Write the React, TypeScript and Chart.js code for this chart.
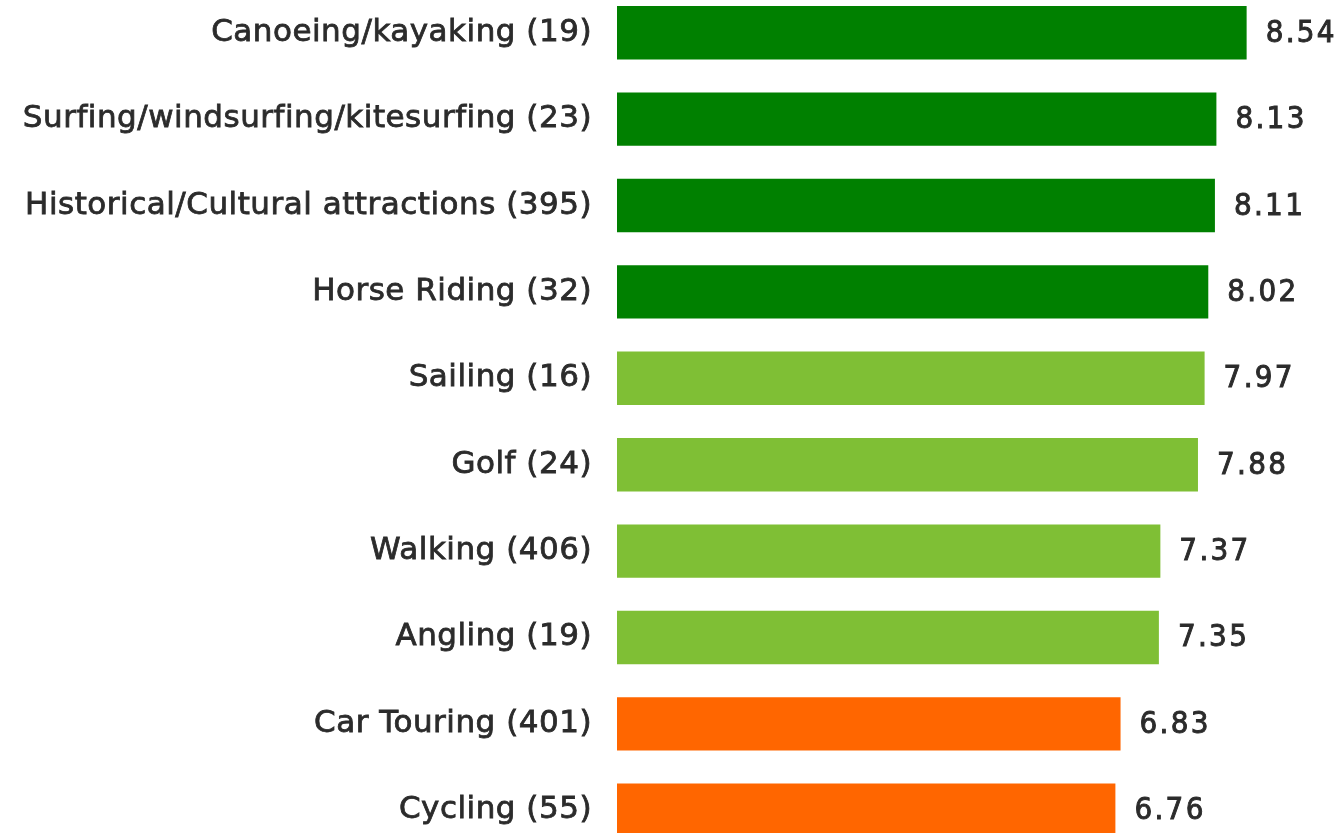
import React, { useEffect, useRef } from "react";
import { Chart, registerables } from "chart.js";

Chart.register(...registerables);

const categories = [
  "Canoeing/kayaking (19)",
  "Surfing/windsurfing/kitesurfing (23)",
  "Historical/Cultural attractions (395)",
  "Horse Riding (32)",
  "Sailing (16)",
  "Golf (24)",
  "Walking (406)",
  "Angling (19)",
  "Car Touring (401)",
  "Cycling (55)",
];
const scores = [8.54, 8.13, 8.11, 8.02, 7.97, 7.88, 7.37, 7.35, 6.83, 6.76];
const barColors = [
  "#008000", "#008000", "#008000", "#008000",
  "#7FBF35", "#7FBF35", "#7FBF35", "#7FBF35",
  "#FF6600", "#FF6600",
];

const LABEL_FONT = "'DejaVu Sans', sans-serif";
const VALUE_FONT = "'DejaVu Sans Condensed', 'DejaVu Sans', sans-serif";
const TEXT_COLOR = "#2b2b2b";

const spacing = {
  id: "spacing",
  beforeDraw(chart: any) {
    try { chart.ctx.letterSpacing = "0.5px"; } catch (e) {}
  },
  afterDraw(chart: any) {
    try { chart.ctx.letterSpacing = "0px"; } catch (e) {}
  },
};

const valueLabels = {
  id: "valueLabels",
  afterDatasetsDraw(chart: any) {
    const ctx = chart.ctx;
    const meta = chart.getDatasetMeta(0);
    ctx.save();
    ctx.font = `31px ${VALUE_FONT}`;
    ctx.fillStyle = TEXT_COLOR;
    ctx.strokeStyle = TEXT_COLOR;
    ctx.lineWidth = 0.9;
    ctx.textAlign = "left";
    ctx.textBaseline = "middle";
    try { (ctx as any).letterSpacing = "2.3px"; } catch (e) {}
    meta.data.forEach((bar: any, i: number) => {
      const t = scores[i].toFixed(2);
      ctx.strokeText(t, bar.x + 19, bar.y + 1);
      ctx.fillText(t, bar.x + 19, bar.y + 1);
    });
    ctx.restore();
  },
};

export default function App() {
  const ref = useRef<HTMLCanvasElement>(null);
  useEffect(() => {
    const chart = new Chart(ref.current!, {
      type: "bar",
      data: {
        labels: categories,
        datasets: [
          {
            data: scores,
            backgroundColor: barColors,
            borderWidth: 0,
            barPercentage: 0.618,
            categoryPercentage: 1,
          },
        ],
      },
      options: {
        indexAxis: "y",
        animation: false,
        responsive: true,
        maintainAspectRatio: false,
        layout: { padding: 0 },
        plugins: { legend: { display: false }, tooltip: { enabled: false } },
        scales: {
          x: { display: false, min: 0, max: 9.82 },
          y: {
            grid: { display: false, drawTicks: false },
            border: { display: false },
            ticks: {
              color: TEXT_COLOR,
              font: { family: LABEL_FONT, size: 31 },
              padding: 25,
              textStrokeColor: TEXT_COLOR,
              textStrokeWidth: 0.8,
            },
            afterFit: (axis: any) => {
              axis.width = 617;
            },
          },
        },
      },
      plugins: [spacing, valueLabels],
    });
    return () => chart.destroy();
  }, []);
  return (
    <div style={{ position: "absolute", left: 0, top: -54, width: 1341, height: 951 }}>
      <canvas ref={ref} />
    </div>
  );
}
